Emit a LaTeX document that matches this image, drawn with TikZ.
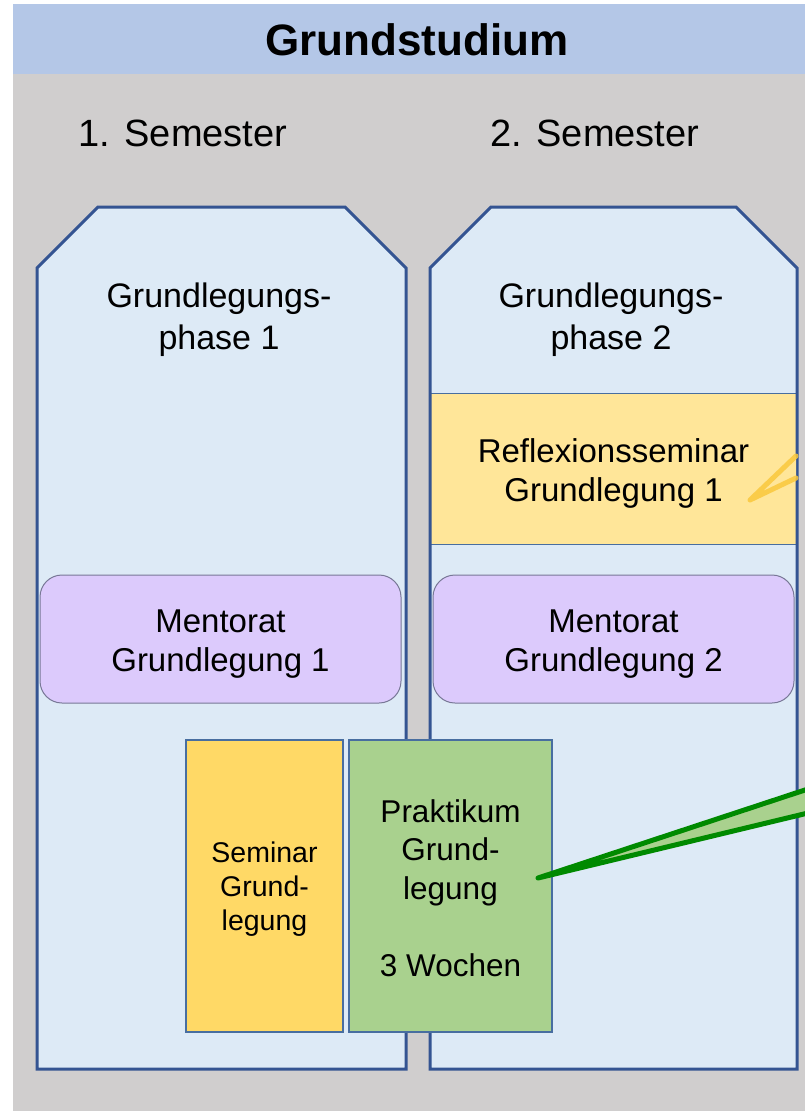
\documentclass[tikz,border=0pt]{standalone}
\usepackage{fontspec}
\setmainfont{Liberation Sans}
\definecolor{bggray}{RGB}{208,206,206}
\definecolor{headblue}{RGB}{180,199,231}
\definecolor{colfill}{RGB}{221,234,246}
\definecolor{colline}{RGB}{52,84,146}
\definecolor{boxline}{RGB}{72,110,160}
\definecolor{reflfill}{RGB}{255,230,153}
\definecolor{mentfill}{RGB}{220,202,252}
\definecolor{mentline}{RGB}{120,120,150}
\definecolor{semfill}{RGB}{255,217,102}
\definecolor{prakfill}{RGB}{169,209,142}
\definecolor{wedgegreen}{RGB}{0,138,0}
\definecolor{wedgeyellow}{RGB}{250,200,60}
\begin{document}
\begin{tikzpicture}[x=1pt,y=-1pt,
  column/.style={draw=colline,line width=3pt,line join=miter},
  txt/.style={inner sep=0pt,align=center,text=black},
  reflbox/.style={draw=boxline,line width=1pt,fill=reflfill,inner sep=0pt},
  mentbox/.style={draw=mentline,line width=1pt,fill=mentfill,rounded corners=22pt,inner sep=0pt,minimum width=361pt,minimum height=128pt},
  sembox/.style={draw=boxline,line width=1.3pt,fill=semfill,inner sep=0pt},
  prakbox/.style={draw=boxline,line width=1.3pt,fill=prakfill,inner sep=0pt},
  wedgeline/.style={line width=5pt,line cap=round,line join=round}
]
\useasboundingbox (0,0) rectangle (805,1111);
% background
\fill[white] (0,0) rectangle (805,1111);
\fill[bggray] (13,4) rectangle (805,1111);
\fill[headblue] (13,4) rectangle (805,74);
\node[txt,font=\fontsize{44}{50}\selectfont\bfseries] (title) at (417,40) {Grundstudium};
\node[txt,font=\fontsize{38}{44}\selectfont] (sem1) at (183,133) {1. Semester};
\node[txt,font=\fontsize{38}{44}\selectfont] (sem2) at (595,133) {2. Semester};
% column fills
\fill[colfill] (37,268) -- (98,207) -- (345,207) -- (406,268) -- (406,1069) -- (37,1069) -- cycle;
\fill[colfill] (430,268) -- (491,207) -- (736,207) -- (797,268) -- (797,1069) -- (430,1069) -- cycle;
% Reflexionsseminar
\node[reflbox,minimum width=367pt,minimum height=151pt] (refl) at (613.5,469) {};
\node[txt,font=\fontsize{33}{39}\selectfont] (reflt) at (613.5,473) {Reflexionsseminar\\Grundlegung 1};
% column borders
\draw[column] (37,268) -- (98,207) -- (345,207) -- (406,268) -- (406,1069) -- (37,1069) -- cycle;
\draw[column] (430,268) -- (491,207) -- (736,207) -- (797,268) -- (797,1069) -- (430,1069) -- cycle;
\node[txt,font=\fontsize{34}{42}\selectfont] (gp1) at (219,320) {Grundlegungs-\\phase 1};
\node[txt,font=\fontsize{34}{42}\selectfont] (gp2) at (611,320) {Grundlegungs-\\phase 2};
% Mentorat
\node[mentbox] (ment1) at (220.5,639) {};
\node[mentbox] (ment2) at (613.5,639) {};
\node[txt,font=\fontsize{33}{39}\selectfont] (ment1t) at (220.5,644) {Mentorat\\Grundlegung 1};
\node[txt,font=\fontsize{33}{39}\selectfont] (ment2t) at (613.5,644) {Mentorat\\Grundlegung 2};
% Seminar and Praktikum
\node[sembox,minimum width=157pt,minimum height=292pt] (sem) at (264.5,886) {};
\node[txt,font=\fontsize{28.5}{34}\selectfont] (semt) at (264.5,889) {Seminar\\Grund-\\legung};
\node[prakbox,minimum width=203pt,minimum height=292pt] (prak) at (450.5,886) {};
\node[txt,font=\fontsize{31.5}{38.5}\selectfont] (prakt) at (450.5,888) {Praktikum\\Grund-\\legung\\[38.5pt]3 Wochen};
% yellow callout wedge
\coordinate (ytip) at (750,500);
\coordinate (ya) at (796,456);
\coordinate (yb) at (796,478);
\fill[reflfill] (ytip) -- (ya) -- (yb) -- cycle;
\draw[wedgeline,draw=wedgeyellow,opacity=0.85] (ya) -- (ytip) -- (yb);
% green callout wedge
\coordinate (gtip) at (538,878);
\coordinate (ga) at (808,789);
\coordinate (gb) at (808,813);
\fill[prakfill] (gtip) -- (ga) -- (gb) -- cycle;
\draw[wedgeline,draw=wedgegreen] (ga) -- (gtip) -- (gb);
\end{tikzpicture}
\end{document}
